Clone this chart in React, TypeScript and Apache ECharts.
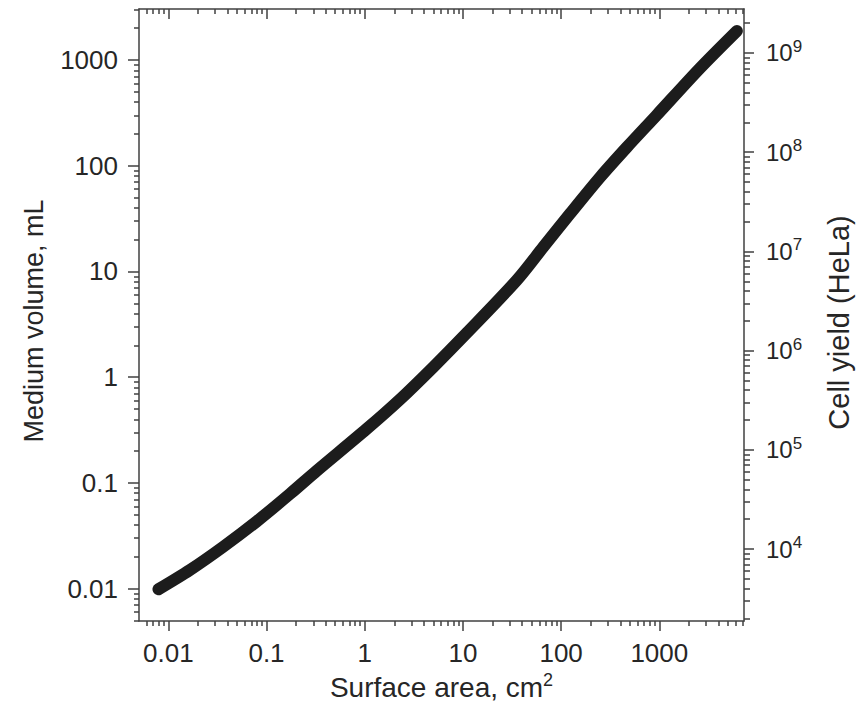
import React, { useEffect, useRef } from "react";
import * as echarts from "echarts";

// ---- data ----
const surfaceArea = [0.00794, 0.0166, 0.0363, 0.0794, 0.174, 0.324, 1.047, 2.29, 5.01, 10.96, 35.5, 66.1, 123, 251, 468, 933, 2570, 6166];
const mediumVolume = [0.00986, 0.015, 0.0249, 0.0432, 0.0789, 0.13, 0.324, 0.617, 1.25, 2.62, 8.3, 17.1, 35.1, 78.5, 150, 299, 830, 1884];

const xTickValues = [0.01, 0.1, 1, 10, 100, 1000];
const xTickLabels = ["0.01", "0.1", "1", "10", "100", "1000"];
const yLeftTickValues = [0.01, 0.1, 1, 10, 100, 1000];
const yLeftTickLabels = ["0.01", "0.1", "1", "10", "100", "1000"];
const yRightExponents = [4, 5, 6, 7, 8, 9];

const xRange = [0.00503, 7280];
const yLeftRange = [0.00494, 3038];
const yRightRange = [1884, 2.773e9];

const lg = Math.log10;
const FONT = "'Liberation Sans', Arial, Helvetica, sans-serif";
const AXIS_COLOR = "#404040";
const TEXT_COLOR = "#262626";

function minorTicks(lo: number, hi: number): number[] {
  const out: number[] = [];
  for (let n = Math.floor(lo) - 1; n <= Math.ceil(hi); n++) {
    for (let k = 2; k <= 9; k++) {
      const v = n + lg(k);
      if (v >= lo && v <= hi) out.push(v);
    }
  }
  return out;
}

function labelFor(values: number[], labels: string[]) {
  return (v: number) => {
    const i = values.findIndex((t) => Math.abs(lg(t) - v) < 1e-6);
    return i >= 0 ? labels[i] : "";
  };
}

export default function App() {
  const ref = useRef<HTMLDivElement>(null);

  useEffect(() => {
    if (!ref.current) return;
    const chart = echarts.init(ref.current, null, { renderer: "svg" });

    const xMin = lg(xRange[0]);
    const xMax = lg(xRange[1]);
    const yMin = lg(yLeftRange[0]);
    const yMax = lg(yLeftRange[1]);
    const rMin = lg(yRightRange[0]);
    const rMax = lg(yRightRange[1]);

    const xMajor = xTickValues.map(lg);
    const yMajor = yLeftTickValues.map(lg);
    const rMajor = yRightExponents.slice();

    const lineStyle = { color: AXIS_COLOR, width: 1.5 };
    const noSplit = { show: false };

    const baseX = (position: string) => ({
      type: "value",
      position,
      min: xMin,
      max: xMax,
      splitLine: noSplit,
    });
    const baseY = (position: string, min: number, max: number) => ({
      type: "value",
      position,
      min,
      max,
      splitLine: noSplit,
    });

    const option: any = {
      animation: false,
      grid: { left: 139, right: 117, top: 9, bottom: 96, containLabel: false },
      xAxis: [
        {
          ...baseX("bottom"),
          axisLine: { show: true, onZero: false, lineStyle },
          axisTick: { show: true, length: 10, customValues: xMajor, lineStyle },
          axisLabel: {
            customValues: xMajor,
            formatter: labelFor(xTickValues, xTickLabels),
            fontSize: 26,
            fontFamily: FONT,
            color: TEXT_COLOR,
            margin: 19,
          },
          name: "{b|Surface area, cm}{sup|2}",
          nameLocation: "middle",
          nameGap: 48,
          nameTextStyle: {
            fontFamily: FONT,
            color: TEXT_COLOR,
            rich: {
              b: { fontSize: 28, lineHeight: 34, fontFamily: FONT, color: TEXT_COLOR, verticalAlign: "middle" },
              sup: { fontSize: 18, lineHeight: 18, fontFamily: FONT, color: TEXT_COLOR, verticalAlign: "top" },
            },
          },
        },
        {
          ...baseX("bottom"),
          axisLine: { show: false, onZero: false },
          axisTick: { show: true, length: 5, customValues: minorTicks(xMin, xMax), lineStyle },
          axisLabel: { show: false },
        },
        {
          ...baseX("top"),
          axisLine: { show: true, onZero: false, lineStyle },
          axisTick: { show: true, inside: true, length: 10, customValues: xMajor, lineStyle },
          axisLabel: { show: false },
        },
        {
          ...baseX("top"),
          axisLine: { show: false, onZero: false },
          axisTick: { show: true, inside: true, length: 5, customValues: minorTicks(xMin, xMax), lineStyle },
          axisLabel: { show: false },
        },
      ],
      yAxis: [
        {
          ...baseY("left", yMin, yMax),
          axisLine: { show: true, onZero: false, lineStyle },
          axisTick: { show: true, length: 11, customValues: yMajor, lineStyle },
          axisLabel: {
            customValues: yMajor,
            formatter: labelFor(yLeftTickValues, yLeftTickLabels),
            fontSize: 26,
            fontFamily: FONT,
            color: TEXT_COLOR,
            margin: 21,
          },
          name: "Medium volume, mL",
          nameLocation: "middle",
          nameGap: 92,
          nameTextStyle: { fontSize: 27, fontFamily: FONT, color: TEXT_COLOR, padding: [0, 12, 0, 0] },
        },
        {
          ...baseY("left", yMin, yMax),
          axisLine: { show: false, onZero: false },
          axisTick: { show: true, length: 5, customValues: minorTicks(yMin, yMax), lineStyle },
          axisLabel: { show: false },
        },
        {
          ...baseY("right", rMin, rMax),
          axisLine: { show: true, onZero: false, lineStyle },
          axisTick: { show: true, length: 10, customValues: rMajor, lineStyle },
          axisLabel: {
            customValues: rMajor,
            formatter: (v: number) => "{b|10}{sup|" + Math.round(v) + "}",
            margin: 22,
            rich: {
              b: { fontSize: 24, lineHeight: 30, fontFamily: FONT, color: TEXT_COLOR, verticalAlign: "middle" },
              sup: { fontSize: 17, lineHeight: 17, fontFamily: FONT, color: TEXT_COLOR, verticalAlign: "top" },
            },
          },
          name: "Cell yield (HeLa)",
          nameLocation: "middle",
          nameGap: 80,
          nameTextStyle: { fontSize: 29, fontFamily: FONT, color: TEXT_COLOR, padding: [0, 15, 0, 0] },
        },
        {
          ...baseY("right", rMin, rMax),
          axisLine: { show: false, onZero: false },
          axisTick: { show: true, length: 6, customValues: minorTicks(rMin, rMax), lineStyle },
          axisLabel: { show: false },
        },
      ],
      series: [
        {
          type: "line",
          xAxisIndex: 0,
          yAxisIndex: 0,
          data: surfaceArea.map((x, i) => [lg(x), lg(mediumVolume[i])]),
          smooth: 0.3,
          showSymbol: false,
          silent: true,
          lineStyle: { color: "#1c1c1c", width: 12, cap: "round", join: "round" },
        },
      ],
    };

    chart.setOption(option);
    return () => chart.dispose();
  }, []);

  return (
    <div
      ref={ref}
      style={{ position: "absolute", left: 0, top: 0, width: 861, height: 717, background: "#ffffff" }}
    />
  );
}
